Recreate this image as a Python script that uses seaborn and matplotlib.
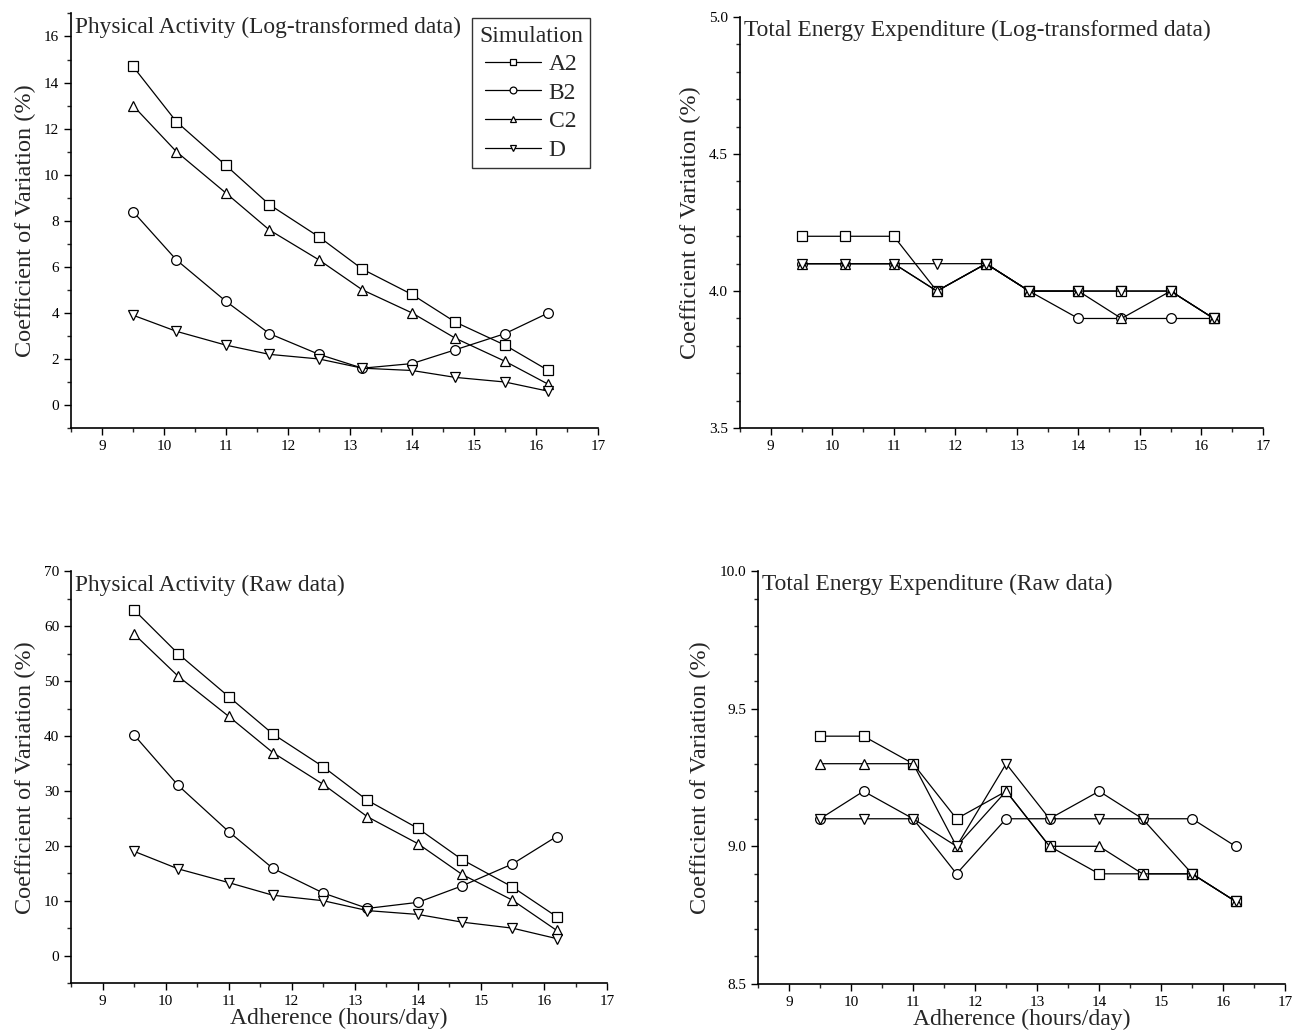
import numpy as np
import pandas as pd
import seaborn as sns
import matplotlib
matplotlib.use("Agg")
import matplotlib.pyplot as plt
from matplotlib.ticker import MultipleLocator

# ---- data ----
adherence = [9.5, 10.2, 11.0, 11.7, 12.5, 13.2, 14.0, 14.7, 15.5, 16.2]
series_names = ["A2", "B2", "C2", "D"]

pa_log_A2 = [14.7, 12.3, 10.4, 8.7, 7.3, 5.9, 4.8, 3.6, 2.6, 1.5]
pa_log_B2 = [8.4, 6.3, 4.5, 3.1, 2.2, 1.6, 1.8, 2.4, 3.1, 4.0]
pa_log_C2 = [13.0, 11.0, 9.2, 7.6, 6.3, 5.0, 4.0, 2.9, 1.9, 0.9]
pa_log_D = [3.9, 3.2, 2.6, 2.2, 2.0, 1.6, 1.5, 1.2, 1.0, 0.6]

tee_log_A2 = [4.2, 4.2, 4.2, 4.0, 4.1, 4.0, 4.0, 4.0, 4.0, 3.9]
tee_log_B2 = [4.1, 4.1, 4.1, 4.0, 4.1, 4.0, 3.9, 3.9, 3.9, 3.9]
tee_log_C2 = [4.1, 4.1, 4.1, 4.0, 4.1, 4.0, 4.0, 3.9, 4.0, 3.9]
tee_log_D = [4.1, 4.1, 4.1, 4.1, 4.1, 4.0, 4.0, 4.0, 4.0, 3.9]

pa_raw_A2 = [63.0, 55.0, 47.2, 40.4, 34.4, 28.3, 23.2, 17.5, 12.5, 7.1]
pa_raw_B2 = [40.2, 31.0, 22.6, 15.9, 11.4, 8.6, 9.7, 12.7, 16.7, 21.7]
pa_raw_C2 = [58.6, 50.9, 43.6, 37.0, 31.2, 25.3, 20.4, 14.8, 10.1, 4.6]
pa_raw_D = [19.0, 15.8, 13.3, 11.0, 10.0, 8.2, 7.5, 6.1, 5.0, 3.1]

tee_raw_A2 = [9.4, 9.4, 9.3, 9.1, 9.2, 9.0, 8.9, 8.9, 8.9, 8.8]
tee_raw_B2 = [9.1, 9.2, 9.1, 8.9, 9.1, 9.1, 9.2, 9.1, 9.1, 9.0]
tee_raw_C2 = [9.3, 9.3, 9.3, 9.0, 9.2, 9.0, 9.0, 8.9, 8.9, 8.8]
tee_raw_D = [9.1, 9.1, 9.1, 9.0, 9.3, 9.1, 9.1, 9.1, 8.9, 8.8]

titles = ["Physical Activity (Log-transformed data)",
          "Total Energy Expenditure (Log-transformed data)",
          "Physical Activity (Raw data)",
          "Total Energy Expenditure (Raw data)"]
ylabel = "Coefficient of Variation (%)"
xlabel = "Adherence (hours/day)"
legend_title = "Simulation"

marker_map = {"A2": "s", "B2": "o", "C2": "^", "D": "v"}

panels = [
    [pa_log_A2, pa_log_B2, pa_log_C2, pa_log_D],
    [tee_log_A2, tee_log_B2, tee_log_C2, tee_log_D],
    [pa_raw_A2, pa_raw_B2, pa_raw_C2, pa_raw_D],
    [tee_raw_A2, tee_raw_B2, tee_raw_C2, tee_raw_D],
]

def make_df(vals):
    rows = []
    for name, ys in zip(series_names, vals):
        for x, y in zip(adherence, ys):
            rows.append({"Adherence": x, "CV": y, "Simulation": name})
    return pd.DataFrame(rows)

sns.set_theme(style="ticks")
plt.rcParams["font.family"] = ["Liberation Serif", "DejaVu Serif"]

fig = plt.figure(figsize=(12.96, 10.34), dpi=100)
positions = [
    [0.0548, 0.586, 0.4066, 0.401],
    [0.571, 0.586, 0.4035, 0.3975],
    [0.0548, 0.0493, 0.4136, 0.398],
    [0.585, 0.0484, 0.4066, 0.3994],
]
ylims = [(-1, 17), (3.5, 5.0), (-5, 70), (8.5, 10.0)]
ymajor = [2, 0.5, 10, 0.5]
yminor = [1, 0.1, 5, 0.1]

for i, (pos, vals) in enumerate(zip(positions, panels)):
    ax = fig.add_axes(pos)
    df = make_df(vals)
    sns.lineplot(data=df, x="Adherence", y="CV", style="Simulation",
                 style_order=series_names, markers=marker_map, dashes=False,
                 color="black", linewidth=0.9, markersize=7,
                 markerfacecolor="white", markeredgecolor="black",
                 markeredgewidth=0.9, legend=False, ax=ax)
    ax.set_xlim(8.5, 17)
    ax.set_ylim(*ylims[i])
    ax.xaxis.set_major_locator(MultipleLocator(1))
    ax.xaxis.set_minor_locator(MultipleLocator(0.5))
    ax.yaxis.set_major_locator(MultipleLocator(ymajor[i]))
    ax.yaxis.set_minor_locator(MultipleLocator(yminor[i]))
    if ymajor[i] == 0.5:
        ax.yaxis.set_major_formatter(matplotlib.ticker.FormatStrFormatter("%.1f"))
    ax.tick_params(which="major", direction="out", length=5, width=1,
                   labelsize=11, colors="black")
    ax.tick_params(which="minor", direction="out", length=3, width=1)
    for side in ["top", "right"]:
        ax.spines[side].set_visible(False)
    for side in ["left", "bottom"]:
        ax.spines[side].set_linewidth(1.2)
        ax.spines[side].set_color("black")
    ax.set_ylabel(ylabel, fontsize=17.5, labelpad=6)
    if i >= 2:
        ax.set_xlabel(xlabel, fontsize=17, labelpad=0)
    else:
        ax.set_xlabel("")
    ax.text(0.008, 0.993, titles[i], transform=ax.transAxes, ha="left",
            va="top", fontsize=16.8)
    if i == 0:
        handles = ax.get_lines()[:4]
        leg = ax.legend(handles=handles, labels=series_names,
                        title=legend_title, loc="upper right",
                        bbox_to_anchor=(0.985, 0.988), borderaxespad=0,
                        frameon=True,
                        fancybox=False, fontsize=17, title_fontsize=17,
                        markerscale=0.7, handlelength=2.4, handletextpad=0.3,
                        labelspacing=0.3, borderpad=0.3)
        leg.get_frame().set_edgecolor("black")
        leg.get_frame().set_linewidth(1.0)

fig.savefig("out.png", dpi=100)
